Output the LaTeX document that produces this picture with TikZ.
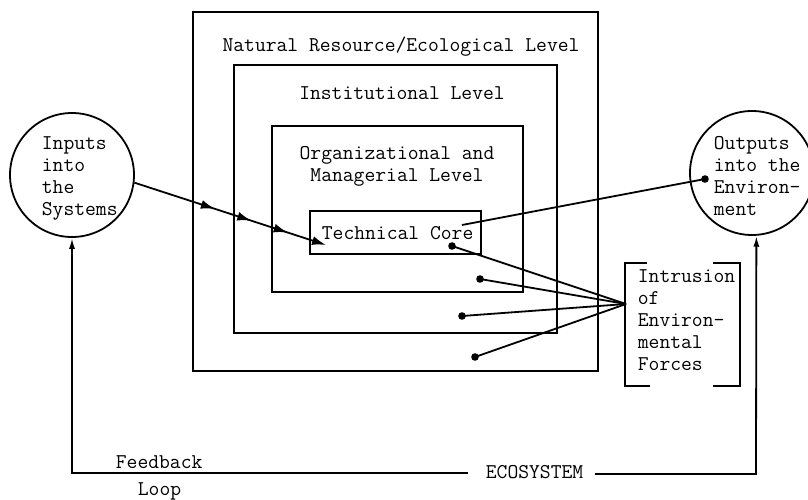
\documentclass[tikz,border=0pt]{standalone}
\usepackage{fontspec}
\usetikzlibrary{arrows.meta,decorations.markings}
\begin{document}
\begin{tikzpicture}[x=1pt,y=-1pt, line width=1.8pt,
  lbl/.style={font=\fontsize{21}{22}\selectfont\ttfamily, inner sep=0pt, anchor=base west, align=left},
  clbl/.style={font=\fontsize{21}{22}\selectfont\ttfamily, inner sep=0pt, anchor=base, align=center},
  circ/.style={draw, circle, minimum size=124pt, inner sep=0pt},
  headarrow/.style={-{Latex[length=14pt,width=9pt]}},
  smallarrow/.style={-{Latex[length=11pt,width=6pt]}},
  midarrows/.style={postaction={decorate}, decoration={markings,
    mark=at position 0.42 with {\arrow{Latex[length=14pt,width=9pt]}},
    mark=at position 0.61 with {\arrow{Latex[length=14pt,width=9pt]}},
    mark=at position 0.80 with {\arrow{Latex[length=14pt,width=9pt]}}}},
  ]
\useasboundingbox (0,0) rectangle (808,500);
\fill[white] (0,0) rectangle (808,500);

% nested level boxes
\draw (193,12) rectangle (598,371);
\draw (234,65) rectangle (557,333);
\draw (272,126) rectangle (523,292);
\draw (310,211) rectangle (481,254);

% level labels (base = baseline of last line)
\node[clbl] (nat) at (401,52) {Natural Resource/Ecological Level};
\node[clbl] (inst) at (402,100) {Institutional Level};
\node[clbl] (org) at (397,181) {Organizational and\\Managerial Level};
\node[lbl] (tc) at (321,239) {Technical Core};

% circles
\node[circ] (in) at (72,175) {};
\node[lbl] (intxt) at (41,215) {Inputs\\into\\the\\Systems};
\node[circ] (out) at (752,173) {};
\node[lbl] (outtxt) at (713,215) {Outputs\\into the\\Environ-\\ment};

% input arrow into technical core
\coordinate (tcin) at (326,245);
\draw[headarrow, midarrows] (in.-7) -- (tcin);

% output line
\coordinate (tcout) at (462,225);
\coordinate (outdot) at (705,179);
\draw (tcout) -- (outdot);
\fill (outdot) circle (3.8pt);

% intrusion bracket
\draw (647,263) -- (625,263) -- (625,386) -- (650,386);
\draw (713,263) -- (740,263) -- (740,386) -- (713,386);
\node[lbl] (intr) at (637,370) {Intrusion\\of\\Environ-\\mental\\Forces};

% intrusion lines
\coordinate (conv) at (626,304);
\coordinate (d1) at (452,246);
\coordinate (d2) at (480,279);
\coordinate (d3) at (462,316);
\coordinate (d4) at (475,357);
\foreach \d in {d1,d2,d3,d4}{
  \draw (conv) -- (\d);
  \fill (\d) circle (3.8pt);
}

% feedback loop / ecosystem
\node[lbl] (fb) at (115,468) {Feedback};
\node[lbl] (loop) at (137,495) {Loop};
\node[lbl] (eco) at (485,478) {ECOSYSTEM};
\coordinate (ll) at (468,473);
\coordinate (lc) at (72,473);
\coordinate (rl) at (595,474);
\coordinate (rc) at (756,474);
\draw[smallarrow] (ll) -- (lc) -- (in.south);
\draw[smallarrow] (rl) -- (rc) -- (out.-86);
\end{tikzpicture}
\end{document}
